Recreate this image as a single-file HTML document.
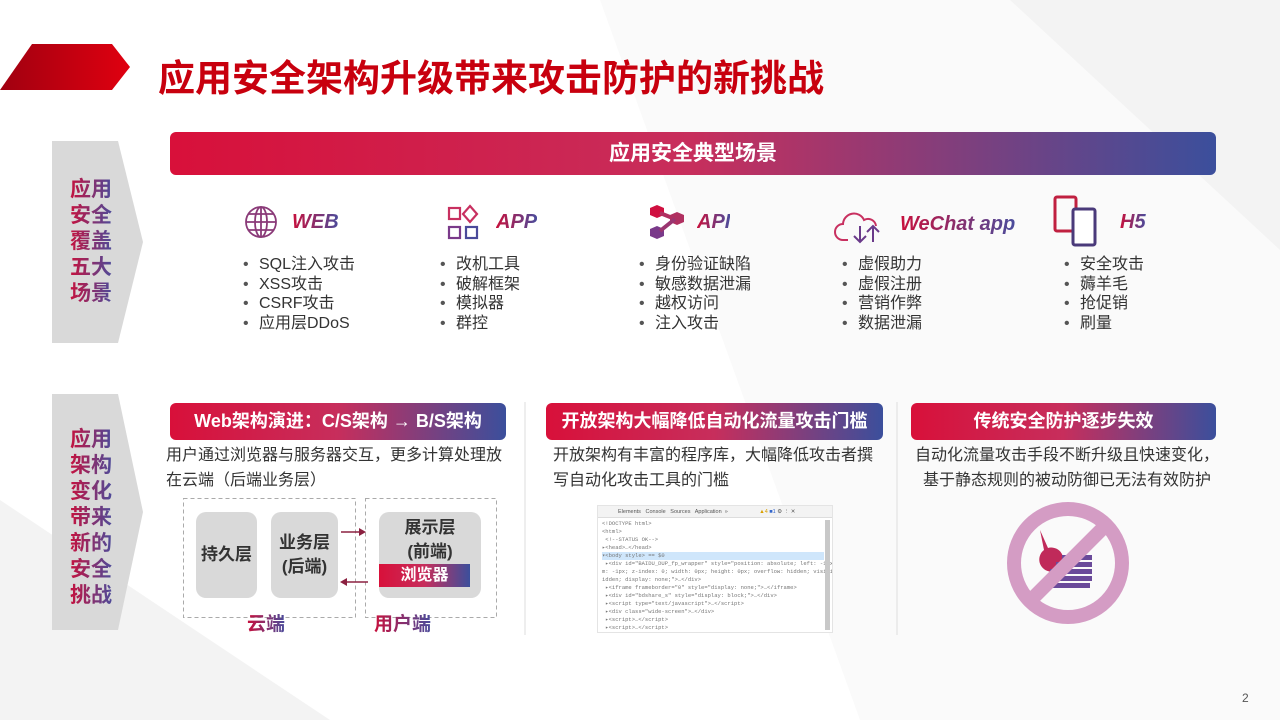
<!DOCTYPE html>
<html><head><meta charset="utf-8">
<style>
*{margin:0;padding:0;box-sizing:border-box}
body{width:1280px;height:720px;position:relative;overflow:hidden;background:#fff;font-family:"Liberation Sans","Noto Sans CJK SC",sans-serif;color:#333}
.a{position:absolute}
.grad{background:linear-gradient(90deg,#d8103a 0%,#c72e5c 50%,#3b4f9c 100%)}
.gt{background:linear-gradient(90deg,#c8103c,#4a4c9c);-webkit-background-clip:text;background-clip:text;color:transparent}
.side{font-weight:bold;font-size:21px;line-height:26px;width:44px;text-align:center}
.hd{color:#fff;font-weight:bold;font-size:18px;text-align:center;border-radius:6px;line-height:37px}
.ct{font-style:italic;font-weight:bold;font-size:20px}
ul{list-style:none;font-size:16px;line-height:19.5px;color:#333}
ul li:before{content:"•";display:inline-block;width:16px;color:#555}
.desc{font-size:16px;line-height:25px;color:#333}
.gb{background:#d9d9d9;border-radius:10px;font-weight:bold;font-size:17px;color:#333;display:flex;align-items:center;justify-content:center;text-align:center;line-height:24px}
.dt{font-family:"Liberation Mono",monospace;font-size:5.5px;color:#777;white-space:nowrap;line-height:8px}
</style></head><body>
<svg class="a" style="left:0;top:0" width="1280" height="720">
<polygon points="600,0 1280,0 1280,720 860,720" fill="#fafafa"/>
<polygon points="1010,0 1280,0 1280,250" fill="#f3f3f3"/>
<polygon points="0,500 330,720 0,720" fill="#f3f3f3"/>
<defs><linearGradient id="rg" x1="0" x2="1"><stop offset="0" stop-color="#a00010"/><stop offset="1" stop-color="#e00010"/></linearGradient></defs>
<polygon points="32,44 112,44 130,67 112,90 0,90" fill="url(#rg)"/>
<polygon points="52,141 118,141 143,242 118,343 52,343" fill="#d9d9d9"/>
<polygon points="52,394 118,394 143,512 118,630 52,630" fill="#d9d9d9"/>
<line x1="525" y1="402" x2="525" y2="635" stroke="#ddd"/>
<line x1="897" y1="402" x2="897" y2="635" stroke="#ddd"/>
<rect x="183.5" y="498.5" width="172" height="119" fill="none" stroke="#aaa" stroke-dasharray="4,3"/>
<rect x="365.5" y="498.5" width="131" height="119" fill="none" stroke="#aaa" stroke-dasharray="4,3"/>
<line x1="341" y1="532" x2="364" y2="532" stroke="#8b2040" stroke-width="1.5"/>
<polygon points="366,532 359,528 359,536" fill="#8b2040"/>
<line x1="346" y1="582" x2="368" y2="582" stroke="#8b2040" stroke-width="1.5"/>
<polygon points="340,582 347,578 347,586" fill="#8b2040"/>
<g fill="none" stroke="#8a3a78" stroke-width="1.8">
<circle cx="261" cy="222" r="15"/><ellipse cx="261" cy="222" rx="6" ry="15"/><line x1="246" y1="222" x2="276" y2="222"/><line x1="248" y1="214" x2="274" y2="214"/><line x1="248" y1="230" x2="274" y2="230"/><line x1="261" y1="207" x2="261" y2="237"/>
<rect x="449" y="208" width="11" height="11" stroke="#c83060" stroke-width="2.2"/><polygon points="470,206 477,214 470,222 463,214" stroke="#c83060" stroke-width="2.2"/><rect x="449" y="227" width="11" height="11" stroke="#7a3a8a" stroke-width="2.2"/><rect x="466" y="227" width="11" height="11" stroke="#4a4a9a" stroke-width="2.2"/>
<path d="M848,240 h-5 a8,8 0 0 1 0,-16 a11,11 0 0 1 21,-4 a8,8 0 0 1 12,6" stroke="#c83060" stroke-width="2"/>
<path d="M860,226 v16 M854,236 l6,6 6,-6 M873,242 v-16 M867,232 l6,-6 6,6" stroke="#6a3a8a" stroke-width="2"/>
<rect x="1055" y="197" width="21" height="34" rx="2" stroke="#c02040" stroke-width="3"/>
<rect x="1073" y="209" width="22" height="36" rx="2" stroke="#4a3a7a" stroke-width="3" fill="#fff"/>
</g>
<polygon points="650,208 657,205 664,208 664,215 657,218 650,215" fill="#d01040"/>
<polygon points="670,215 677,212 684,215 684,222 677,225 670,222" fill="#b03060"/>
<polygon points="650,229 657,226 664,229 664,236 657,239 650,236" fill="#7a3a8a"/>
<line x1="660" y1="213" x2="675" y2="219" stroke="#b03060" stroke-width="4"/><line x1="675" y1="219" x2="660" y2="231" stroke="#9a3570" stroke-width="4"/>
<path d="M1040,530 l8,18 a12,12 0 1 1 -4,2 z" fill="#c02a5a"/>
<g fill="#6a4a9a"><rect x="1062" y="555" width="30" height="5"/><rect x="1056" y="562" width="36" height="5"/><rect x="1050" y="569" width="42" height="5"/><rect x="1046" y="576" width="46" height="5"/><rect x="1050" y="583" width="40" height="5"/></g>
<circle cx="1068" cy="563" r="54" fill="none" stroke="#d49cc4" stroke-width="14"/>
<line x1="1030" y1="601" x2="1106" y2="525" stroke="#d49cc4" stroke-width="14"/>
</svg>
<div class="a" style="left:158px;top:48px;font-size:37px;font-weight:bold;color:#c8000e">应用安全架构升级带来攻击防护的新挑战</div>
<div class="a side gt" style="left:69px;top:177px">应用安全覆盖五大场景</div>
<div class="a side gt" style="left:69px;top:427px">应用架构变化带来新的安全挑战</div>
<div class="a grad hd" style="left:170px;top:132px;width:1046px;height:43px;line-height:43px;font-size:21px">应用安全典型场景</div>
<div class="a ct gt" style="left:292px;top:211px">WEB</div>
<div class="a ct gt" style="left:496px;top:211px">APP</div>
<div class="a ct gt" style="left:697px;top:211px">API</div>
<div class="a ct gt" style="left:900px;top:213px">WeChat app</div>
<div class="a ct gt" style="left:1120px;top:211px">H5</div>
<ul class="a" style="left:243px;top:255px"><li>SQL注入攻击</li><li>XSS攻击</li><li>CSRF攻击</li><li>应用层DDoS</li></ul>
<ul class="a" style="left:440px;top:255px"><li>改机工具</li><li>破解框架</li><li>模拟器</li><li>群控</li></ul>
<ul class="a" style="left:639px;top:255px"><li>身份验证缺陷</li><li>敏感数据泄漏</li><li>越权访问</li><li>注入攻击</li></ul>
<ul class="a" style="left:842px;top:255px"><li>虚假助力</li><li>虚假注册</li><li>营销作弊</li><li>数据泄漏</li></ul>
<ul class="a" style="left:1064px;top:255px"><li>安全攻击</li><li>薅羊毛</li><li>抢促销</li><li>刷量</li></ul>
<div class="a grad hd" style="left:170px;top:403px;width:336px">Web架构演进：C/S架构 → B/S架构</div>
<div class="a grad hd" style="left:546px;top:403px;width:337px">开放架构大幅降低自动化流量攻击门槛</div>
<div class="a grad hd" style="left:911px;top:403px;width:305px">传统安全防护逐步失效</div>
<div class="a desc" style="left:166px;top:443px;width:345px">用户通过浏览器与服务器交互，更多计算处理放在云端（后端业务层）</div>
<div class="a desc" style="left:553px;top:443px;width:330px">开放架构有丰富的程序库，大幅降低攻击者撰写自动化攻击工具的门槛</div>
<div class="a desc" style="left:912px;top:443px;width:310px;text-align:center">自动化流量攻击手段不断升级且快速变化，<br>基于静态规则的被动防御已无法有效防护</div>
<div class="a gb" style="left:196px;top:512px;width:61px;height:86px">持久层</div>
<div class="a gb" style="left:271px;top:512px;width:67px;height:86px">业务层<br>(后端)</div>
<div class="a gb" style="left:379px;top:512px;width:102px;height:86px;align-items:flex-start;padding-top:4px">展示层<br>(前端)</div>
<div class="a grad" style="left:379px;top:564px;width:91px;height:23px;color:#fff;font-weight:bold;font-size:16px;text-align:center;line-height:23px">浏览器</div>
<div class="a gt" style="left:247px;top:609px;font-size:19px;font-weight:bold">云端</div>
<div class="a gt" style="left:374px;top:609px;font-size:19px;font-weight:bold">用户端</div>
<div class="a" style="left:597px;top:505px;width:236px;height:128px;background:#fff;border:1px solid #e4e4e4;overflow:hidden">
<div style="height:12px;border-bottom:1px solid #ddd;background:#f3f3f3;font-size:5.5px;color:#555;line-height:12px;padding-left:20px;white-space:nowrap">Elements &nbsp; Console &nbsp; Sources &nbsp; Application &nbsp;» <span style="color:#d9a000;margin-left:30px">▲4</span> <span style="color:#36c">■1</span> ⚙ ⋮ ✕</div>
<div style="position:absolute;right:2px;top:14px;width:5px;height:110px;background:#c8c8c8"></div>
<div class="dt" style="padding:2px 4px">&lt;!DOCTYPE html&gt;<br>&lt;html&gt;<br>&nbsp;&lt;!--STATUS OK--&gt;<br>▸&lt;head&gt;…&lt;/head&gt;<br><span style="background:#cfe6fb;display:inline-block;width:222px">▾&lt;body style&gt; == $0</span><br>&nbsp;▸&lt;div id="BAIDU_DUP_fp_wrapper" style="position: absolute; left: -1px; botto<br>m: -1px; z-index: 0; width: 0px; height: 0px; overflow: hidden; visibility: h<br>idden; display: none;"&gt;…&lt;/div&gt;<br>&nbsp;▸&lt;iframe frameborder="0" style="display: none;"&gt;…&lt;/iframe&gt;<br>&nbsp;▸&lt;div id="bdshare_s" style="display: block;"&gt;…&lt;/div&gt;<br>&nbsp;▸&lt;script type="text/javascript"&gt;…&lt;/script&gt;<br>&nbsp;▸&lt;div class="wide-screen"&gt;…&lt;/div&gt;<br>&nbsp;▸&lt;script&gt;…&lt;/script&gt;<br>&nbsp;▸&lt;script&gt;…&lt;/script&gt;</div>
</div>
<div class="a" style="left:1242px;top:691px;font-size:12px;color:#555">2</div>
</body></html>
